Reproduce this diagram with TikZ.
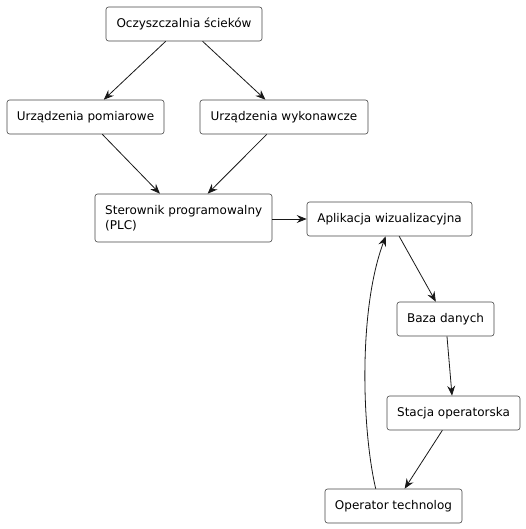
\documentclass[tikz,border=0pt]{standalone}
\usepackage{fontspec}
\setmainfont{DejaVu Sans}
\usetikzlibrary{arrows.meta,calc}
\definecolor{edge}{HTML}{181818}
\begin{document}
\begin{tikzpicture}[x=1pt,y=-1pt,
  box/.style={draw=edge!80!white, fill=white, rounded corners=2.5pt, line width=0.6pt,
    font=\fontsize{12}{14.5}\selectfont, inner sep=0pt, anchor=center},
  conn/.style={draw=edge, line width=0.8pt, -{Stealth[length=10pt,width=8pt,inset=3.5pt]}}
]
\useasboundingbox (0,0) rectangle (525,529);
\node[box, minimum width=156pt, minimum height=34pt] (oc) at (184,24) {Oczyszczalnia ścieków};
\node[box, minimum width=157pt, minimum height=34pt] (pom) at (85.5,117) {Urządzenia pomiarowe};
\node[box, minimum width=168pt, minimum height=34pt] (wyk) at (284,117) {Urządzenia wykonawcze};
\node[box, minimum width=177pt, minimum height=48pt] (plc) at (183.5,218) {};
\node[font=\fontsize{12}{14.5}\selectfont, align=left, inner sep=0pt, anchor=west] (plctext) at (105,218) {Sterownik programowalny\\(PLC)};
\node[box, minimum width=165pt, minimum height=34pt] (app) at (389.5,219) {Aplikacja wizualizacyjna};
\node[box, minimum width=97pt, minimum height=34pt] (db) at (445.5,319) {Baza danych};
\node[box, minimum width=133pt, minimum height=34pt] (st) at (453.5,413) {Stacja operatorska};
\node[box, minimum width=137pt, minimum height=34pt] (op) at (393.5,506) {Operator technolog};

\draw[conn] (oc) -- (pom);
\draw[conn] (oc) -- (wyk);
\draw[conn] (pom) -- (plc);
\draw[conn] (wyk) -- (plc);
\draw[conn] (plc.east |- app.west) -- (app.west);
\draw[conn] (app) -- (db);
\draw[conn] (db) -- (st);
\draw[conn] (st) -- (op);
\draw[conn] ($(op.north west)+(51,0)$) .. controls (362,430) and (358,310) .. ($(app.south west)+(79,0)$);
\end{tikzpicture}
\end{document}
